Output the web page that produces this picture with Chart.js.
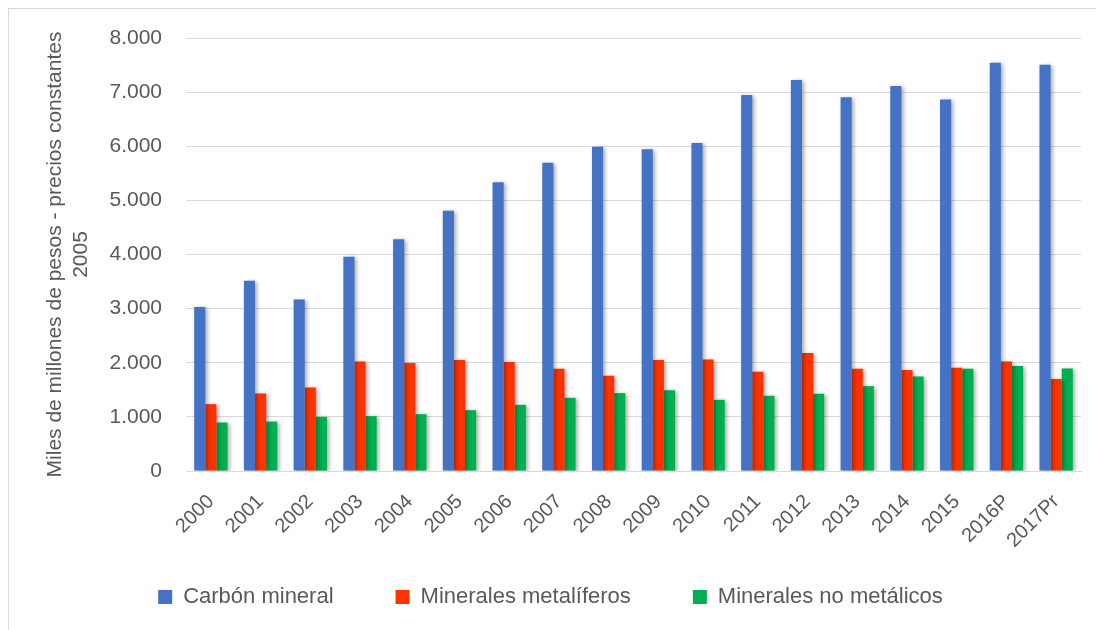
<!DOCTYPE html>
<html>
<head>
<meta charset="utf-8">
<script src="https://cdn.jsdelivr.net/npm/chart.js@4/dist/chart.umd.min.js"></script>
<style>
  html, body { margin: 0; padding: 0; background: #fff; }
  #wrap { position: relative; width: 1096px; height: 630px; overflow: hidden; }
  #frame { position: absolute; left: 8px; top: 8px; width: 1100px; height: 640px; border: 1px solid #d9d9d9; box-sizing: border-box; }
  canvas { position: absolute; left: 0; top: 0; }
</style>
</head>
<body>
<div id="wrap">
  <div id="frame"></div>
  <canvas id="c" width="1096" height="630"></canvas>
</div>
<script>
const categories = ["2000","2001","2002","2003","2004","2005","2006","2007","2008","2009","2010","2011","2012","2013","2014","2015","2016P","2017Pr"];
const carbonMineral = [3030, 3515, 3170, 3960, 4280, 4810, 5333, 5697, 5993, 5943, 6060, 6947, 7224, 6904, 7113, 6862, 7545, 7508];
const mineralesMetaliferos = [1235, 1432, 1543, 2024, 1994, 2050, 2013, 1889, 1759, 2050, 2061, 1833, 2179, 1889, 1864, 1907, 2024, 1698];
const mineralesNoMetalicos = [895, 913, 1000, 1013, 1050, 1124, 1222, 1352, 1439, 1494, 1315, 1389, 1426, 1568, 1747, 1889, 1938, 1895];
const seriesNames = ["Carbón mineral", "Minerales metalíferos", "Minerales no metálicos"];
const yTickValues = [0, 1000, 2000, 3000, 4000, 5000, 6000, 7000, 8000];
const yTitle = ["Miles de millones de pesos - precios constantes", "2005"];

const textColor = "#595959";
const fontFamily = "'Liberation Sans', Arial, sans-serif";
const legendGap = 62;

function fmt(v) {
  return String(Math.round(v)).replace(/\B(?=(\d{3})+(?!\d))/g, ".");
}

const shadowPlugin = {
  id: "barShadow",
  beforeDatasetsDraw(chart) {
    const ctx = chart.ctx;
    ctx.save();
    ctx.shadowColor = "rgba(0,0,0,0.35)";
    ctx.shadowBlur = 4;
    ctx.shadowOffsetX = 2;
    ctx.shadowOffsetY = 1;
  },
  afterDatasetsDraw(chart) {
    chart.ctx.restore();
  }
};

// keep the legend box short in the layout although its horizontal item gap is wide
const legendFix = {
  id: "legendFix",
  beforeLayout(chart) {
    const lg = chart.legend;
    if (lg && !lg._fixedFit) {
      const f = lg.fit;
      lg.fit = function () { f.call(this); this.height = 43; };
      lg._fixedFit = true;
    }
  },
  afterLayout(chart) {
    const lg = chart.legend;
    if (!lg) return;
    const itemH = lg._itemHeight || 26;
    const desiredCenter = 599;
    lg.top = desiredCenter - itemH / 2 - legendGap;
    lg.bottom = chart.height;
    lg.height = lg.bottom - lg.top;
  }
};

new Chart(document.getElementById("c"), {
  type: "bar",
  data: {
    labels: categories,
    datasets: [
      { label: seriesNames[0], data: carbonMineral, backgroundColor: "#4472C4" },
      { label: seriesNames[1], data: mineralesMetaliferos, backgroundColor: "#FF3300" },
      { label: seriesNames[2], data: mineralesNoMetalicos, backgroundColor: "#00B050" }
    ]
  },
  options: {
    responsive: false,
    animation: false,
    devicePixelRatio: 1,
    datasets: { bar: { barPercentage: 1.0, categoryPercentage: 0.67 } },
    layout: { padding: { top: 38, left: 20, right: 15, bottom: 12 } },
    plugins: {
      legend: {
        position: "bottom",
        labels: {
          boxWidth: 14, boxHeight: 14, padding: legendGap,
          color: textColor,
          font: { family: fontFamily, size: 22 }
        }
      },
      tooltip: { enabled: false }
    },
    scales: {
      x: {
        grid: { display: false, drawTicks: false },
        border: { display: true, color: "#d9d9d9", width: 1 },
        ticks: {
          color: textColor,
          font: { family: fontFamily, size: 20 },
          minRotation: 45, maxRotation: 45,
          padding: 19,
          autoSkip: false
        },
        afterFit(scale) { scale.height = 104; }
      },
      y: {
        min: 0, max: 8000,
        afterBuildTicks(scale) { scale.ticks = yTickValues.map(v => ({ value: v })); },
        grid: { color: "#d9d9d9", lineWidth: 1, drawTicks: false },
        border: { display: false },
        ticks: {
          color: textColor,
          font: { family: fontFamily, size: 21 },
          padding: 24,
          callback: (v) => fmt(v)
        },
        title: {
          display: true,
          text: yTitle,
          color: textColor,
          font: { family: fontFamily, size: 21, lineHeight: 1.25 },
          padding: { top: 22, bottom: 0 }
        },
        afterFit(scale) { scale.width = 166; }
      }
    }
  },
  plugins: [shadowPlugin, legendFix]
});
</script>
</body>
</html>
